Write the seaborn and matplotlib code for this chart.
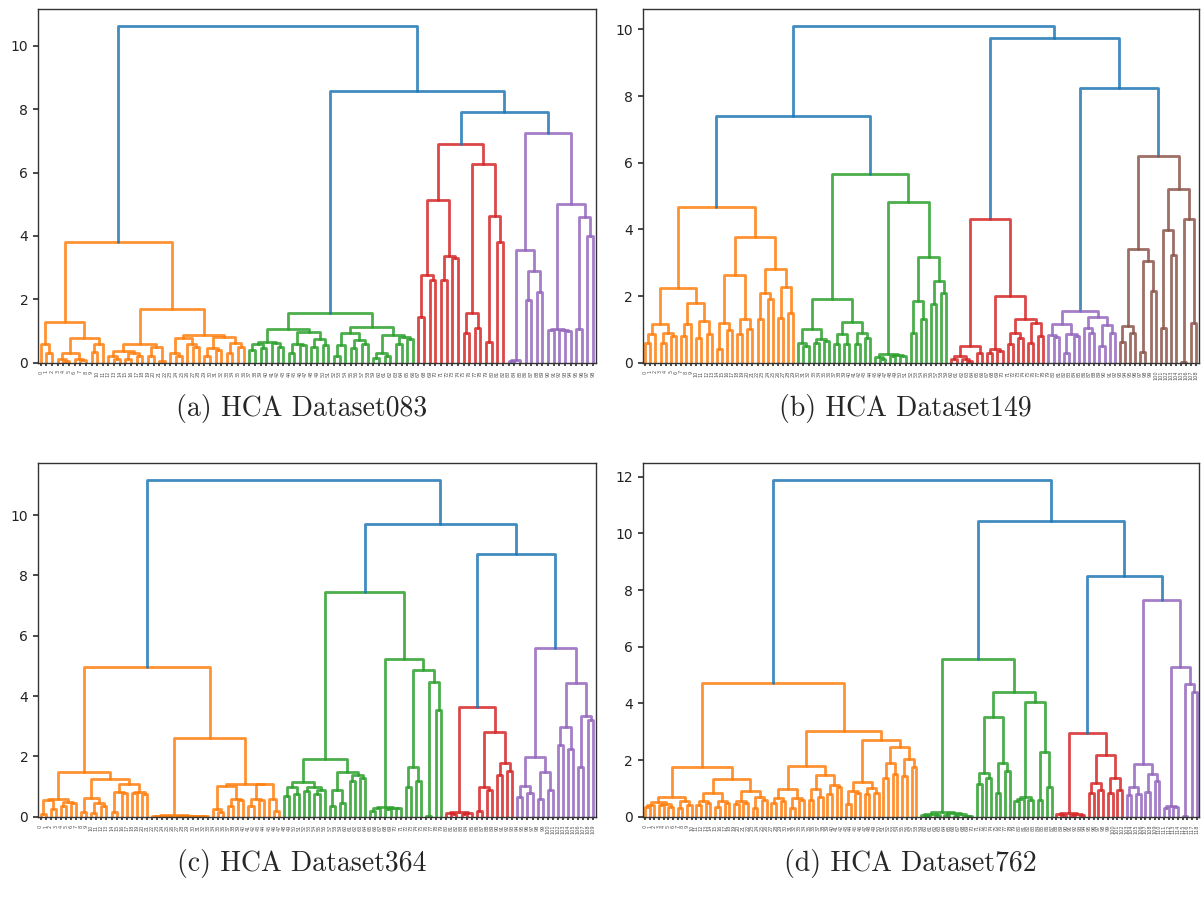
import numpy as np
import pandas as pd
import matplotlib
matplotlib.use("Agg")
import matplotlib.pyplot as plt
import seaborn as sns

L = None  # a leaf

# ---------------- (a) HCA Dataset083 ----------------
a_orange = [3.8,
    [1.27,
        [0.58, L, [0.3, L, L]],
        [0.79, [0.3, [0.1, L, [0.05, L, L]], [0.12, L, [0.08, L, L]]], [0.6, [0.35, L, L], L]]],
    [1.70,
        [0.58, [0.38, [0.2, L, [0.1, L, L]], [0.3, [0.12, L, L], [0.2, L, L]]], [0.48, [0.2, L, L], [0.05, L, L]]],
        [0.87, [0.78, [0.3, L, [0.2, L, L]], [0.6, L, [0.5, L, L]]],
               [0.8, [0.45, [0.2, L, L], [0.4, L, L]], [0.62, [0.3, L, L], [0.5, L, L]]]]]]
a_green = [1.56,
    [1.06,
        [0.66, [0.6, [0.4, L, L], [0.45, L, L]], [0.63, L, [0.5, L, L]]],
        [0.98, [0.6, [0.3, L, L], [0.55, L, L]], [0.75, [0.5, L, L], [0.55, L, L]]]],
    [1.11,
        [0.93, [0.55, [0.2, L, L], L], [0.72, [0.45, L, L], [0.6, L, L]]],
        [0.88, [0.3, [0.15, L, L], [0.2, L, L]], [0.82, [0.6, L, L], [0.75, L, L]]]]]
a_red = [6.89,
    [5.13, [2.77, [1.45, L, L], [2.61, L, L]], [3.37, [2.6, L, L], [3.31, L, L]]],
    [6.26, [1.56, [0.93, L, L], [1.1, L, L]], [4.63, [0.66, L, L], [3.82, L, L]]]]
a_purple = [7.26,
    [3.56, [0.08, [0.05, L, L], L], [2.9, [1.98, L, L], [2.24, L, L]]],
    [5.0, [1.05, [1.02, L, L], [1.03, L, [1.0, L, L]]], [4.59, [1.05, L, L], [4.0, L, L]]]]
tree_a = [10.63, ("C1", a_orange), [8.58, ("C2", a_green), [7.92, ("C3", a_red), ("C4", a_purple)]]]

# ---------------- (b) HCA Dataset149 ----------------
b_orange = [4.66,
    [2.23,
        [1.15, [0.85, [0.6, L, L], L], [0.9, [0.6, L, L], [0.8, L, L]]],
        [1.78, [1.15, [0.8, L, L], L], [1.26, [0.75, L, L], [0.85, L, L]]]],
    [3.76,
        [2.63, [1.18, [0.42, L, L], [0.98, L, L]], [1.3, [0.85, L, L], [1.0, L, L]]],
        [2.82, [2.08, [1.3, L, L], [1.9, L, L]], [2.26, [1.35, L, L], [1.5, L, L]]]]]
b_green = [5.65,
    [1.9,
        [1.0, [0.58, L, [0.5, L, L]], [0.71, [0.6, L, L], [0.65, L, L]]],
        [1.23, [0.87, [0.55, L, L], [0.55, L, L]], [0.9, [0.55, L, L], [0.75, L, L]]]],
    [4.83,
        [0.25, [0.18, L, [0.1, L, L]], [0.22, [0.2, L, L], [0.2, L, L]]],
        [3.16, [1.86, [0.9, L, L], [1.3, L, L]], [2.45, [1.76, L, L], [2.08, L, L]]]]]
b_red = [4.32,
    [0.51, [0.2, [0.1, L, L], [0.12, L, [0.05, L, L]]], [0.3, L, L]],
    [2.01, [0.41, [0.3, L, L], [0.35, L, L]],
           [1.3, [0.88, [0.55, L, L], [0.75, L, L]], [1.18, [0.6, L, L], [0.8, L, L]]]]]
b_purple = [1.56,
    [1.16, [0.83, L, [0.78, L, L]], [0.85, [0.3, L, L], [0.8, L, L]]],
    [1.36, [1.03, L, [0.9, L, L]], [1.13, [0.5, L, L], [0.9, L, L]]]]
b_brown = [6.21,
    [3.4, [1.1, [0.63, L, L], [0.88, L, L]], [3.06, [0.33, L, L], [2.16, L, L]]],
    [5.2, [3.98, [1.03, L, L], [3.23, L, L]], [4.3, [0.03, L, L], [1.18, L, L]]]]
tree_b = [10.11, [7.4, ("C1", b_orange), ("C2", b_green)],
          [9.73, ("C3", b_red), [8.23, ("C4", b_purple), ("C5", b_brown)]]]

# ---------------- (c) HCA Dataset364 ----------------
c_orange = [4.95,
    [1.49,
        [0.59, [0.55, [0.1, L, L], [0.25, L, L]], [0.5, [0.35, L, L], [0.45, L, L]]],
        [1.25, [0.63, [0.15, L, L], [0.45, [0.12, L, L], [0.35, L, L]]],
               [1.07, [0.83, [0.15, L, L], [0.78, L, L]], [0.83, [0.78, L, L], [0.75, L, L]]]]],
    [2.6,
        [0.05, [0.04, [0.03, L, L], [0.03, L, [0.02, L, L]]],
               [0.04, [0.03, L, L], [0.03, [0.02, L, L], [0.02, L, [0.01, L, L]]]]],
        [1.07, [1.03, [0.25, L, [0.15, L, L]], [0.6, [0.35, L, L], [0.55, L, L]]],
               [1.07, [0.6, [0.35, L, L], [0.55, L, L]], [0.6, L, [0.2, L, L]]]]]]
c_green = [7.46,
    [1.93,
        [1.16, [0.97, [0.7, L, L], [0.75, L, L]], [1.0, [0.85, L, L], [0.9, [0.75, L, L], L]]],
        [1.49, [0.88, [0.35, L, L], [0.45, L, L]], [1.38, [1.2, L, L], [1.3, L, L]]]],
    [5.22,
        [0.33, [0.28, [0.2, L, L], L], [0.3, [0.25, L, L], [0.28, L, L]]],
        [4.86, [1.64, [0.97, L, L], [1.18, L, L]], [4.47, [0.02, L, L], [3.54, L, L]]]]]
c_red = [3.63,
    [0.17, [0.12, L, [0.08, L, L]], [0.14, [0.1, L, L], L]],
    [2.82, [0.97, [0.2, L, L], [0.9, L, L]], [1.77, [1.38, L, L], [1.52, L, L]]]]
c_purple = [5.61,
    [1.97, [1.02, [0.67, L, L], [0.78, L, L]], [1.49, [0.6, L, L], [0.88, L, L]]],
    [4.44, [2.98, [2.38, L, L], [2.23, L, L]], [3.34, [1.64, L, L], [3.2, L, L]]]]
tree_c = [11.16, ("C1", c_orange), [9.72, ("C2", c_green), [8.7, ("C3", c_red), ("C4", c_purple)]]]

# ---------------- (d) HCA Dataset762 ----------------
d_orange = [4.71,
    [1.74,
        [0.68, [0.53, [0.4, [0.35, L, L], L], [0.45, [0.4, L, L], [0.35, L, L]]], [0.55, [0.3, L, L], [0.4, L, L]]],
        [1.32, [0.83, [0.55, [0.4, L, L], [0.5, L, L]], [0.55, [0.35, L, L], [0.5, L, L]]],
               [0.9, [0.55, [0.45, L, L], [0.5, L, L]], [0.7, [0.3, L, L], [0.6, L, L]]]]],
    [3.02,
        [1.79, [0.97, [0.65, [0.5, L, L], [0.55, L, L]], [0.65, [0.3, L, L], [0.6, L, L]]],
               [1.47, [0.97, [0.6, L, L], [0.7, L, L]], [1.12, [0.8, L, L], [1.05, L, L]]]],
        [2.71, [1.24, [0.9, [0.45, L, L], [0.85, L, L]], [1.0, [0.8, L, L], [0.85, L, L]]],
               [2.45, [1.88, [1.35, L, L], [1.5, L, L]], [2.03, [1.45, L, L], [1.75, L, L]]]]]]
d_green = [5.57,
    [0.15, [0.1, [0.05, L, [0.03, L, L]], [0.06, L, L]],
           [0.12, [0.05, L, L], [0.08, [0.04, L, L], [0.03, L, [0.02, L, L]]]]],
    [4.39,
        [3.53, [1.55, [1.15, L, L], [1.35, L, L]], [1.88, [0.85, L, L], [1.6, L, L]]],
        [4.06, [0.68, [0.62, [0.55, L, L], L], [0.6, L, L]], [2.29, [0.6, L, L], [1.05, L, L]]]]]
d_red = [2.94,
    [0.12, [0.08, L, [0.05, L, L]], [0.1, [0.06, L, L], [0.05, L, L]]],
    [2.18, [1.18, [0.85, L, L], [0.95, L, L]], [1.35, [0.85, L, L], [0.95, L, L]]]]
d_purple = [7.65,
    [1.86, [1.04, [0.75, L, L], [0.8, L, L]], [1.51, [0.88, L, L], [1.25, L, L]]],
    [5.27, [0.38, [0.3, L, L], [0.35, L, L]], [4.67, [0.03, L, L], [4.41, L, L]]]]
tree_d = [11.88, ("C1", d_orange), [10.45, ("C2", d_green), [8.5, ("C3", d_red), ("C4", d_purple)]]]

captions = ["(a) HCA Dataset083", "(b) HCA Dataset149", "(c) HCA Dataset364", "(d) HCA Dataset762"]
trees = [tree_a, tree_b, tree_c, tree_d]
ytick_sets = [[0, 2, 4, 6, 8, 10], [0, 2, 4, 6, 8, 10], [0, 2, 4, 6, 8, 10], [0, 2, 4, 6, 8, 10, 12]]

palette = {"C0": "#1f77b4", "C1": "#ff7f0e", "C2": "#2ca02c", "C3": "#d62728",
           "C4": "#9467bd", "C5": "#8c564b"}


def build(tree):
    """Walk the merge tree like scipy's dendrogram: leaves at 5, 15, 25, ..."""
    rows = []
    counter = [0]

    def walk(node, color):
        if isinstance(node, tuple):
            color, node = node
        if node is None:
            x = 5 + 10 * counter[0]
            counter[0] += 1
            return x, 0.0
        h, left, right = node
        xl, hl = walk(left, color)
        xr, hr = walk(right, color)
        sid = len(rows) // 4
        for px, py in zip([xl, xl, xr, xr], [hl, h, h, hr]):
            rows.append({"seg": sid, "x": px, "y": py, "color": color})
        return (xl + xr) / 2.0, h

    walk(tree, "C0")
    return pd.DataFrame(rows), counter[0]


sns.set_theme(style="ticks")
plt.rcParams.update({
    "axes.edgecolor": "#333333",
    "axes.linewidth": 1.0,
    "xtick.major.size": 2.0,
    "ytick.major.size": 3.5,
    "xtick.color": "#333333",
    "ytick.color": "#333333",
    "ytick.labelcolor": "#222222",
})
plt.rcParams["font.family"] = ["DejaVu Sans"]

fig = plt.figure(figsize=(12.02, 8.99), dpi=100)
positions = [
    [0.0316, 0.5966, 0.4642, 0.3934],
    [0.5347, 0.5966, 0.4628, 0.3934],
    [0.0316, 0.0915, 0.4642, 0.3931],
    [0.5347, 0.0915, 0.4628, 0.3931],
]
cap_pos = [(0.2508, 0.5460), (0.7530, 0.5460), (0.2513, 0.0400), (0.7570, 0.0400)]

for tree, pos, cap, cp, yt in zip(trees, positions, captions, cap_pos, ytick_sets):
    ax = fig.add_axes(pos)
    df, n = build(tree)
    sns.lineplot(data=df, x="x", y="y", hue="color", units="seg", estimator=None,
                 sort=False, palette=palette, legend=False, linewidth=2.0, alpha=0.85, ax=ax)
    ax.set_xlim(0, 10 * n)
    ax.set_ylim(0, tree[0] * 1.05)
    ax.set_yticks(yt)
    ax.tick_params(axis="y", labelsize=10)
    ax.set_xticks(5 + 10 * np.arange(n))
    ax.set_xticklabels([str(k) for k in range(n)], rotation=90, fontsize=3.6, color="#555555")
    ax.set_xlabel("")
    ax.set_ylabel("")
    for s in ax.spines.values():
        s.set_visible(True)
    fig.text(cp[0], cp[1], cap, ha="center", va="center", fontsize=20, family=["cmr10", "DejaVu Serif"])

fig.savefig("out.png", dpi=100)
